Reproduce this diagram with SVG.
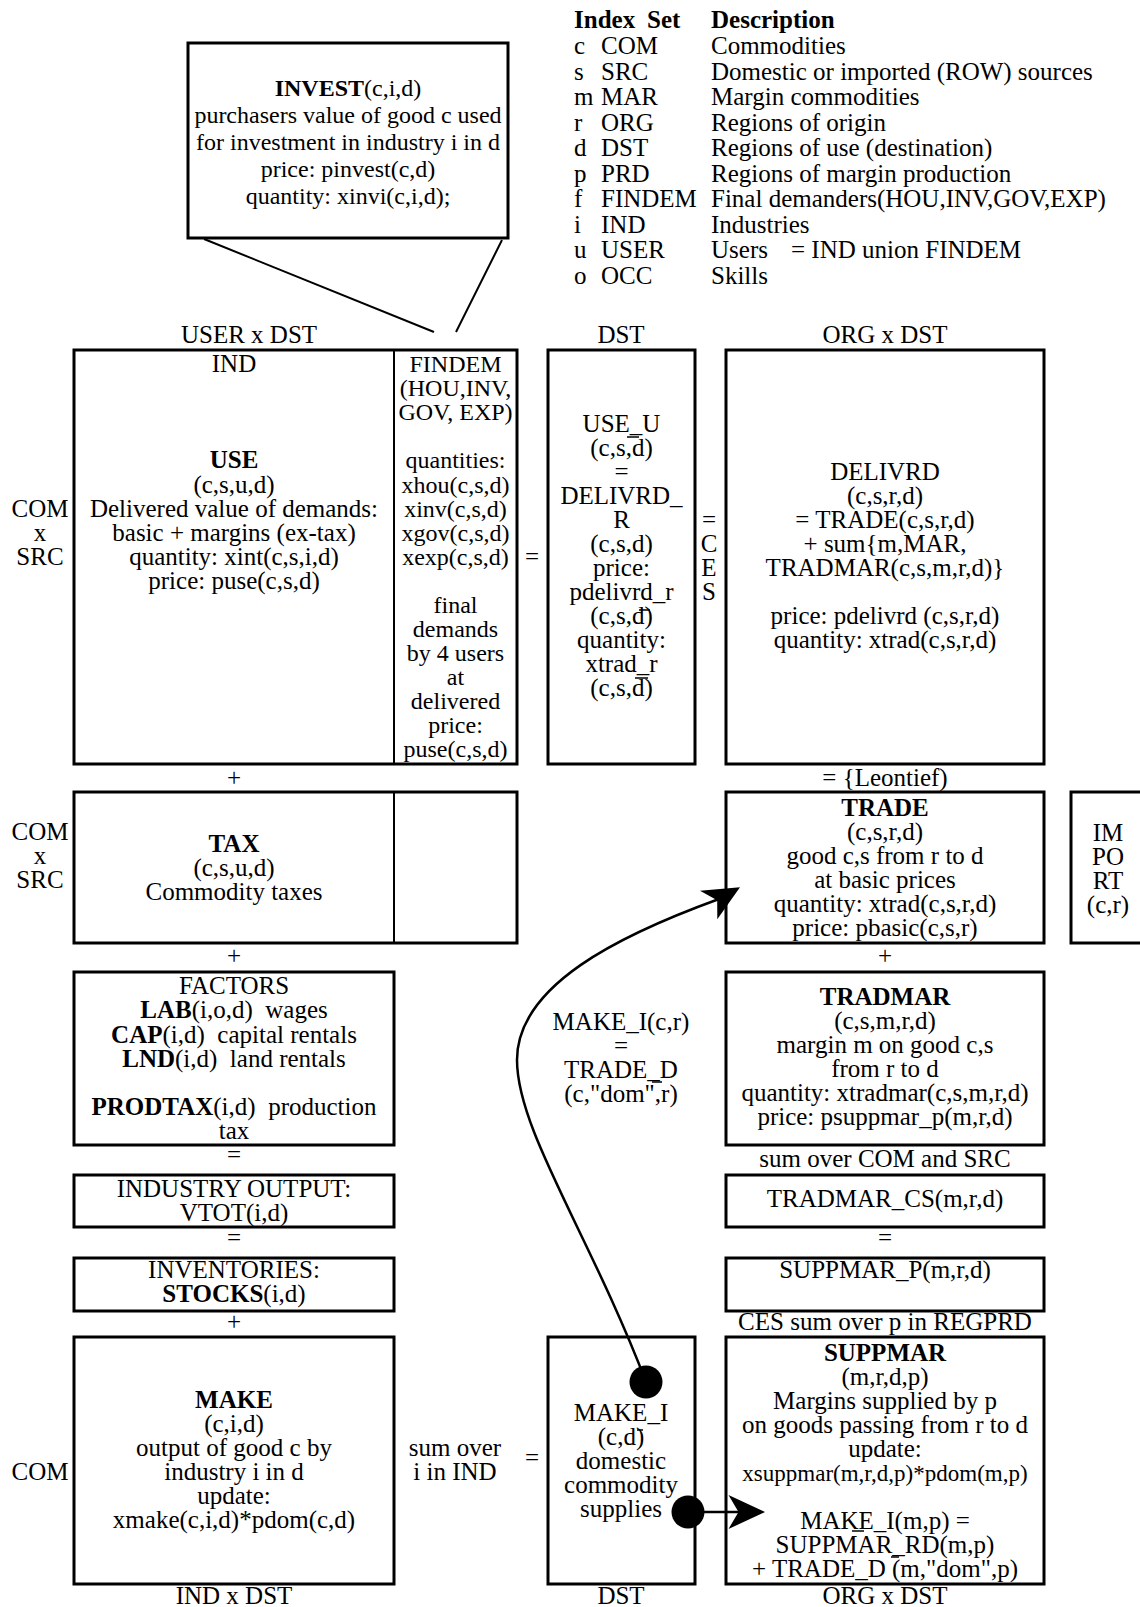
<svg xmlns="http://www.w3.org/2000/svg" width="1140" height="1607" viewBox="0 0 1140 1607">
<style>
text { font-family: "Liberation Serif", "Times New Roman", serif; font-size: 25px; fill: #000; }
.c { text-anchor: middle; }
.b { font-weight: bold; }
.s24 { font-size: 24px; }
.s23 { font-size: 23px; }
.box { fill: none; stroke: #000; stroke-width: 3; }
.div { stroke: #000; stroke-width: 2; fill: none; }
.con { stroke: #000; stroke-width: 2.5; fill: none; }
.art { stroke: #000; stroke-width: 1.5; }
</style>
<rect width="1140" height="1607" fill="#fff"/>

<g id="legend">
  <text x="574" y="28" class="b">Index</text><text x="647" y="28" class="b">Set</text><text x="711" y="28" class="b">Description</text>
  <text x="574" y="54">c</text><text x="601" y="54">COM</text><text x="711" y="54">Commodities</text>
  <text x="574" y="79.5">s</text><text x="601" y="79.5">SRC</text><text x="711" y="79.5">Domestic or imported (ROW) sources</text>
  <text x="574" y="105">m</text><text x="601" y="105">MAR</text><text x="711" y="105">Margin commodities</text>
  <text x="574" y="130.5">r</text><text x="601" y="130.5">ORG</text><text x="711" y="130.5">Regions of origin</text>
  <text x="574" y="156">d</text><text x="601" y="156">DST</text><text x="711" y="156">Regions of use (destination)</text>
  <text x="574" y="181.5">p</text><text x="601" y="181.5">PRD</text><text x="711" y="181.5">Regions of margin production</text>
  <text x="574" y="207">f</text><text x="601" y="207">FINDEM</text><text x="711" y="207">Final demanders(HOU,INV,GOV,EXP)</text>
  <text x="574" y="232.5">i</text><text x="601" y="232.5">IND</text><text x="711" y="232.5">Industries</text>
  <text x="574" y="258">u</text><text x="601" y="258">USER</text><text x="711" y="258">Users</text><text x="791" y="258">= IND union FINDEM</text>
  <text x="574" y="283.5">o</text><text x="601" y="283.5">OCC</text><text x="711" y="283.5">Skills</text>
</g>

<g id="invest">
  <rect class="box" x="188" y="43" width="320" height="195"/>
  <text class="c s24" x="348" y="96"><tspan class="b">INVEST</tspan>(c,i,d)</text>
  <text class="c s24" x="348" y="123">purchasers value of good c used</text>
  <text class="c s24" x="348" y="150">for investment in industry i in d</text>
  <text class="c s24" x="348" y="177">price: pinvest(c,d)</text>
  <text class="c s24" x="348" y="204">quantity: xinvi(c,i,d);</text>
</g>

<g id="axis-labels">
  <text class="c" x="249" y="343">USER x DST</text>
  <text class="c" x="621" y="343">DST</text>
  <text class="c" x="885" y="343">ORG x DST</text>
  <text class="c" x="40" y="516.5">COM</text>
  <text class="c" x="40" y="540.5">x</text>
  <text class="c" x="40" y="564.5">SRC</text>
  <text class="c" x="40" y="839.5">COM</text>
  <text class="c" x="40" y="863.5">x</text>
  <text class="c" x="40" y="887.5">SRC</text>
  <text class="c" x="40" y="1480">COM</text>
  <text class="c" x="234" y="1604">IND x DST</text>
  <text class="c" x="621" y="1604">DST</text>
  <text class="c" x="885" y="1604">ORG x DST</text>
</g>

<g id="use">
  <rect class="box" x="74" y="350" width="443" height="414"/>
  <line class="div" x1="394" y1="350" x2="394" y2="764"/>
  <text class="c" x="234" y="371.5">IND</text>
  <text class="c b" x="234" y="468">USE</text>
  <text class="c" x="234" y="492.5">(c,s,u,d)</text>
  <text class="c" x="234" y="516.5">Delivered value of demands:</text>
  <text class="c" x="234" y="540.5">basic + margins (ex-tax)</text>
  <text class="c" x="234" y="564.5">quantity: xint(c,s,i,d)</text>
  <text class="c" x="234" y="588.5">price: puse(c,s,d)</text>
</g>

<g id="findem">
  <text class="c s24" x="455.5" y="371.5">FINDEM</text>
  <text class="c s24" x="455.5" y="396">(HOU,INV,</text>
  <text class="c s24" x="455.5" y="420">GOV, EXP)</text>
  <text class="c s24" x="455.5" y="468">quantities:</text>
  <text class="c s24" x="455.5" y="492.5">xhou(c,s,d)</text>
  <text class="c s24" x="455.5" y="516.5">xinv(c,s,d)</text>
  <text class="c s24" x="455.5" y="540.5">xgov(c,s,d)</text>
  <text class="c s24" x="455.5" y="564.5">xexp(c,s,d)</text>
  <text class="c s24" x="455.5" y="612.5">final</text>
  <text class="c s24" x="455.5" y="636.5">demands</text>
  <text class="c s24" x="455.5" y="660.5">by 4 users</text>
  <text class="c s24" x="455.5" y="684.5">at</text>
  <text class="c s24" x="455.5" y="708.5">delivered</text>
  <text class="c s24" x="455.5" y="732.5">price:</text>
  <text class="c s24" x="455.5" y="756.5">puse(c,s,d)</text>
</g>

<g id="use_u">
  <rect class="box" x="548" y="350" width="147" height="414"/>
  <text class="c" x="621.5" y="431.5">USE_U</text>
  <text class="c" x="621.5" y="455.5">(c,s,d)</text>
  <text class="c" x="621.5" y="479.5">=</text>
  <text class="c" x="621.5" y="503.5">DELIVRD_</text>
  <text class="c" x="621.5" y="527.5">R</text>
  <text class="c" x="621.5" y="551.5">(c,s,d)</text>
  <text class="c" x="621.5" y="575.5">price:</text>
  <text class="c" x="621.5" y="599.5">pdelivrd_r</text>
  <text class="c" x="621.5" y="623.5">(c,s,d)</text>
  <text class="c" x="621.5" y="647.5">quantity:</text>
  <text class="c" x="621.5" y="671.5">xtrad_r</text>
  <text class="c" x="621.5" y="695.5">(c,s,d)</text>
</g>

<g id="delivrd">
  <rect class="box" x="726" y="350" width="318" height="414"/>
  <text class="c" x="885" y="479.5">DELIVRD</text>
  <text class="c" x="885" y="503.5">(c,s,r,d)</text>
  <text class="c" x="885" y="527.5">= TRADE(c,s,r,d)</text>
  <text class="c" x="885" y="551.5">+ sum{m,MAR,</text>
  <text class="c" x="885" y="575.5">TRADMAR(c,s,m,r,d)}</text>
  <text class="c" x="885" y="623.5">price: pdelivrd (c,s,r,d)</text>
  <text class="c" x="885" y="647.5">quantity: xtrad(c,s,r,d)</text>
</g>

<g id="tax">
  <rect class="box" x="74" y="792" width="443" height="151"/>
  <line class="div" x1="394" y1="792" x2="394" y2="943"/>
  <text class="c b" x="234" y="851.5">TAX</text>
  <text class="c" x="234" y="875.5">(c,s,u,d)</text>
  <text class="c" x="234" y="899.5">Commodity taxes</text>
</g>

<g id="trade">
  <rect class="box" x="726" y="792" width="318" height="151"/>
  <text class="c b" x="885" y="815.5">TRADE</text>
  <text class="c" x="885" y="839.5">(c,s,r,d)</text>
  <text class="c" x="885" y="863.5">good c,s from r to d</text>
  <text class="c" x="885" y="887.5">at basic prices</text>
  <text class="c" x="885" y="911.5">quantity: xtrad(c,s,r,d)</text>
  <text class="c" x="885" y="935.5">price: pbasic(c,s,r)</text>
</g>

<g id="import">
  <rect class="box" x="1071" y="792" width="80" height="151"/>
  <text class="c" x="1108" y="840.5">IM</text>
  <text class="c" x="1108" y="864.5">PO</text>
  <text class="c" x="1108" y="888.5">RT</text>
  <text class="c" x="1108" y="912.5">(c,r)</text>
</g>

<g id="factors">
  <rect class="box" x="74" y="972" width="320" height="173"/>
  <text class="c" x="234" y="994">FACTORS</text>
  <text class="c" x="234" y="1018"><tspan class="b">LAB</tspan>(i,o,d)&#160; wages</text>
  <text class="c" x="234" y="1042.5"><tspan class="b">CAP</tspan>(i,d)&#160; capital rentals</text>
  <text class="c" x="234" y="1066.5"><tspan class="b">LND</tspan>(i,d)&#160; land rentals</text>
  <text class="c" x="234" y="1114.5"><tspan class="b">PRODTAX</tspan>(i,d)&#160; production</text>
  <text class="c" x="234" y="1138.5">tax</text>
</g>

<g id="make_i_cr">
  <text class="c" x="621" y="1030">MAKE_I(c,r)</text>
  <text class="c" x="621" y="1054">=</text>
  <text class="c" x="621" y="1078">TRADE_D</text>
  <text class="c" x="621" y="1102">(c,"dom",r)</text>
</g>

<g id="tradmar">
  <rect class="box" x="726" y="972" width="318" height="173"/>
  <text class="c b" x="885" y="1005">TRADMAR</text>
  <text class="c" x="885" y="1029">(c,s,m,r,d)</text>
  <text class="c" x="885" y="1053">margin m on good c,s</text>
  <text class="c" x="885" y="1077">from r to d</text>
  <text class="c" x="885" y="1101">quantity: xtradmar(c,s,m,r,d)</text>
  <text class="c" x="885" y="1125">price: psuppmar_p(m,r,d)</text>
</g>

<g id="industry-output">
  <rect class="box" x="74" y="1175" width="320" height="52"/>
  <text class="c" x="234" y="1196.5">INDUSTRY OUTPUT:</text>
  <text class="c" x="234" y="1220.5">VTOT(i,d)</text>
</g>

<g id="tradmar_cs">
  <rect class="box" x="726" y="1175" width="318" height="52"/>
  <text class="c" x="885" y="1207">TRADMAR_CS(m,r,d)</text>
</g>

<g id="inventories">
  <rect class="box" x="74" y="1258" width="320" height="53"/>
  <text class="c" x="234" y="1278">INVENTORIES:</text>
  <text class="c" x="234" y="1302"><tspan class="b">STOCKS</tspan>(i,d)</text>
</g>

<g id="suppmar_p">
  <rect class="box" x="726" y="1258" width="318" height="53"/>
  <text class="c" x="885" y="1278">SUPPMAR_P(m,r,d)</text>
</g>

<g id="make">
  <rect class="box" x="74" y="1337" width="320" height="247"/>
  <text class="c b" x="234" y="1408">MAKE</text>
  <text class="c" x="234" y="1432">(c,i,d)</text>
  <text class="c" x="234" y="1456">output of good c by</text>
  <text class="c" x="234" y="1480">industry i in d</text>
  <text class="c" x="234" y="1504">update:</text>
  <text class="c" x="234" y="1528">xmake(c,i,d)*pdom(c,d)</text>
</g>

<g id="make_i">
  <rect class="box" x="548" y="1337" width="147" height="247"/>
  <text class="c" x="621" y="1420.5">MAKE_I</text>
  <text class="c" x="621" y="1445">(c,d)</text>
  <text class="c" x="621" y="1469">domestic</text>
  <text class="c" x="621" y="1493">commodity</text>
  <text class="c" x="621" y="1517">supplies</text>
</g>

<g id="suppmar">
  <rect class="box" x="726" y="1337" width="318" height="247"/>
  <text class="c b" x="885" y="1360.5">SUPPMAR</text>
  <text class="c" x="885" y="1384.5">(m,r,d,p)</text>
  <text class="c" x="885" y="1408.5">Margins supplied by p</text>
  <text class="c" x="885" y="1432.5">on goods passing from r to d</text>
  <text class="c" x="885" y="1456.5">update:</text>
  <text class="c s23" x="885" y="1480.5">xsuppmar(m,r,d,p)*pdom(m,p)</text>
  <text class="c" x="885" y="1528.5">MAKE_I(m,p) =</text>
  <text class="c" x="885" y="1552.5">SUPPMAR_RD(m,p)</text>
  <text class="c" x="885" y="1576.5">+ TRADE_D (m,"dom",p)</text>
</g>

<g id="operators">
  <text class="c" x="532" y="564.5">=</text>
  <text class="c" x="709" y="527.5">=</text>
  <text class="c" x="709" y="551.5">C</text>
  <text class="c" x="709" y="575.5">E</text>
  <text class="c" x="709" y="599.5">S</text>
  <text class="c" x="234" y="786">+</text>
  <text class="c" x="885" y="786">= {Leontief)</text>
  <text class="c" x="234" y="964">+</text>
  <text class="c" x="885" y="964">+</text>
  <text class="c" x="234" y="1163">=</text>
  <text class="c" x="885" y="1167">sum over COM and SRC</text>
  <text class="c" x="234" y="1245.5">=</text>
  <text class="c" x="885" y="1245.5">=</text>
  <text class="c" x="234" y="1330">+</text>
  <text class="c" x="885" y="1330">CES sum over p in REGPRD</text>
  <text class="c" x="455" y="1456">sum over</text>
  <text class="c" x="455" y="1480">i in IND</text>
  <text class="c" x="532" y="1466">=</text>
</g>

<g id="connectors">
  <line class="div" x1="204" y1="239" x2="434" y2="332"/>
  <line class="div" x1="502" y1="240" x2="456" y2="332"/>
  <path class="con" d="M646,1382 C590,1235 517,1130 517,1060 C517,985 620,935 719,899"/>
  <polygon points="740,887.3 700,890.7 717.2,900.2 717.3,919.3" fill="#000"/>
  <circle cx="646" cy="1382" r="16.5" fill="#000"/>
  <line class="con" x1="688" y1="1512" x2="740" y2="1512"/>
  <polygon points="765,1512 728.5,1495 738.5,1512 728.5,1529" fill="#000"/>
  <circle cx="688" cy="1512" r="16.5" fill="#000"/>
</g>

<g id="marks">
  <line class="art" x1="627" y1="437" x2="639" y2="437"/>
  <line class="art" x1="639" y1="610" x2="650" y2="610"/>
  <line class="art" x1="635" y1="678" x2="648" y2="678"/>
  <line class="art" x1="637" y1="1430" x2="643" y2="1430"/>
  <line class="art" x1="652" y1="1082" x2="662" y2="1082"/>
  <line class="art" x1="852" y1="1531" x2="864" y2="1531"/>
  <line class="art" x1="891" y1="1557" x2="899" y2="1557"/>
</g>
</svg>
